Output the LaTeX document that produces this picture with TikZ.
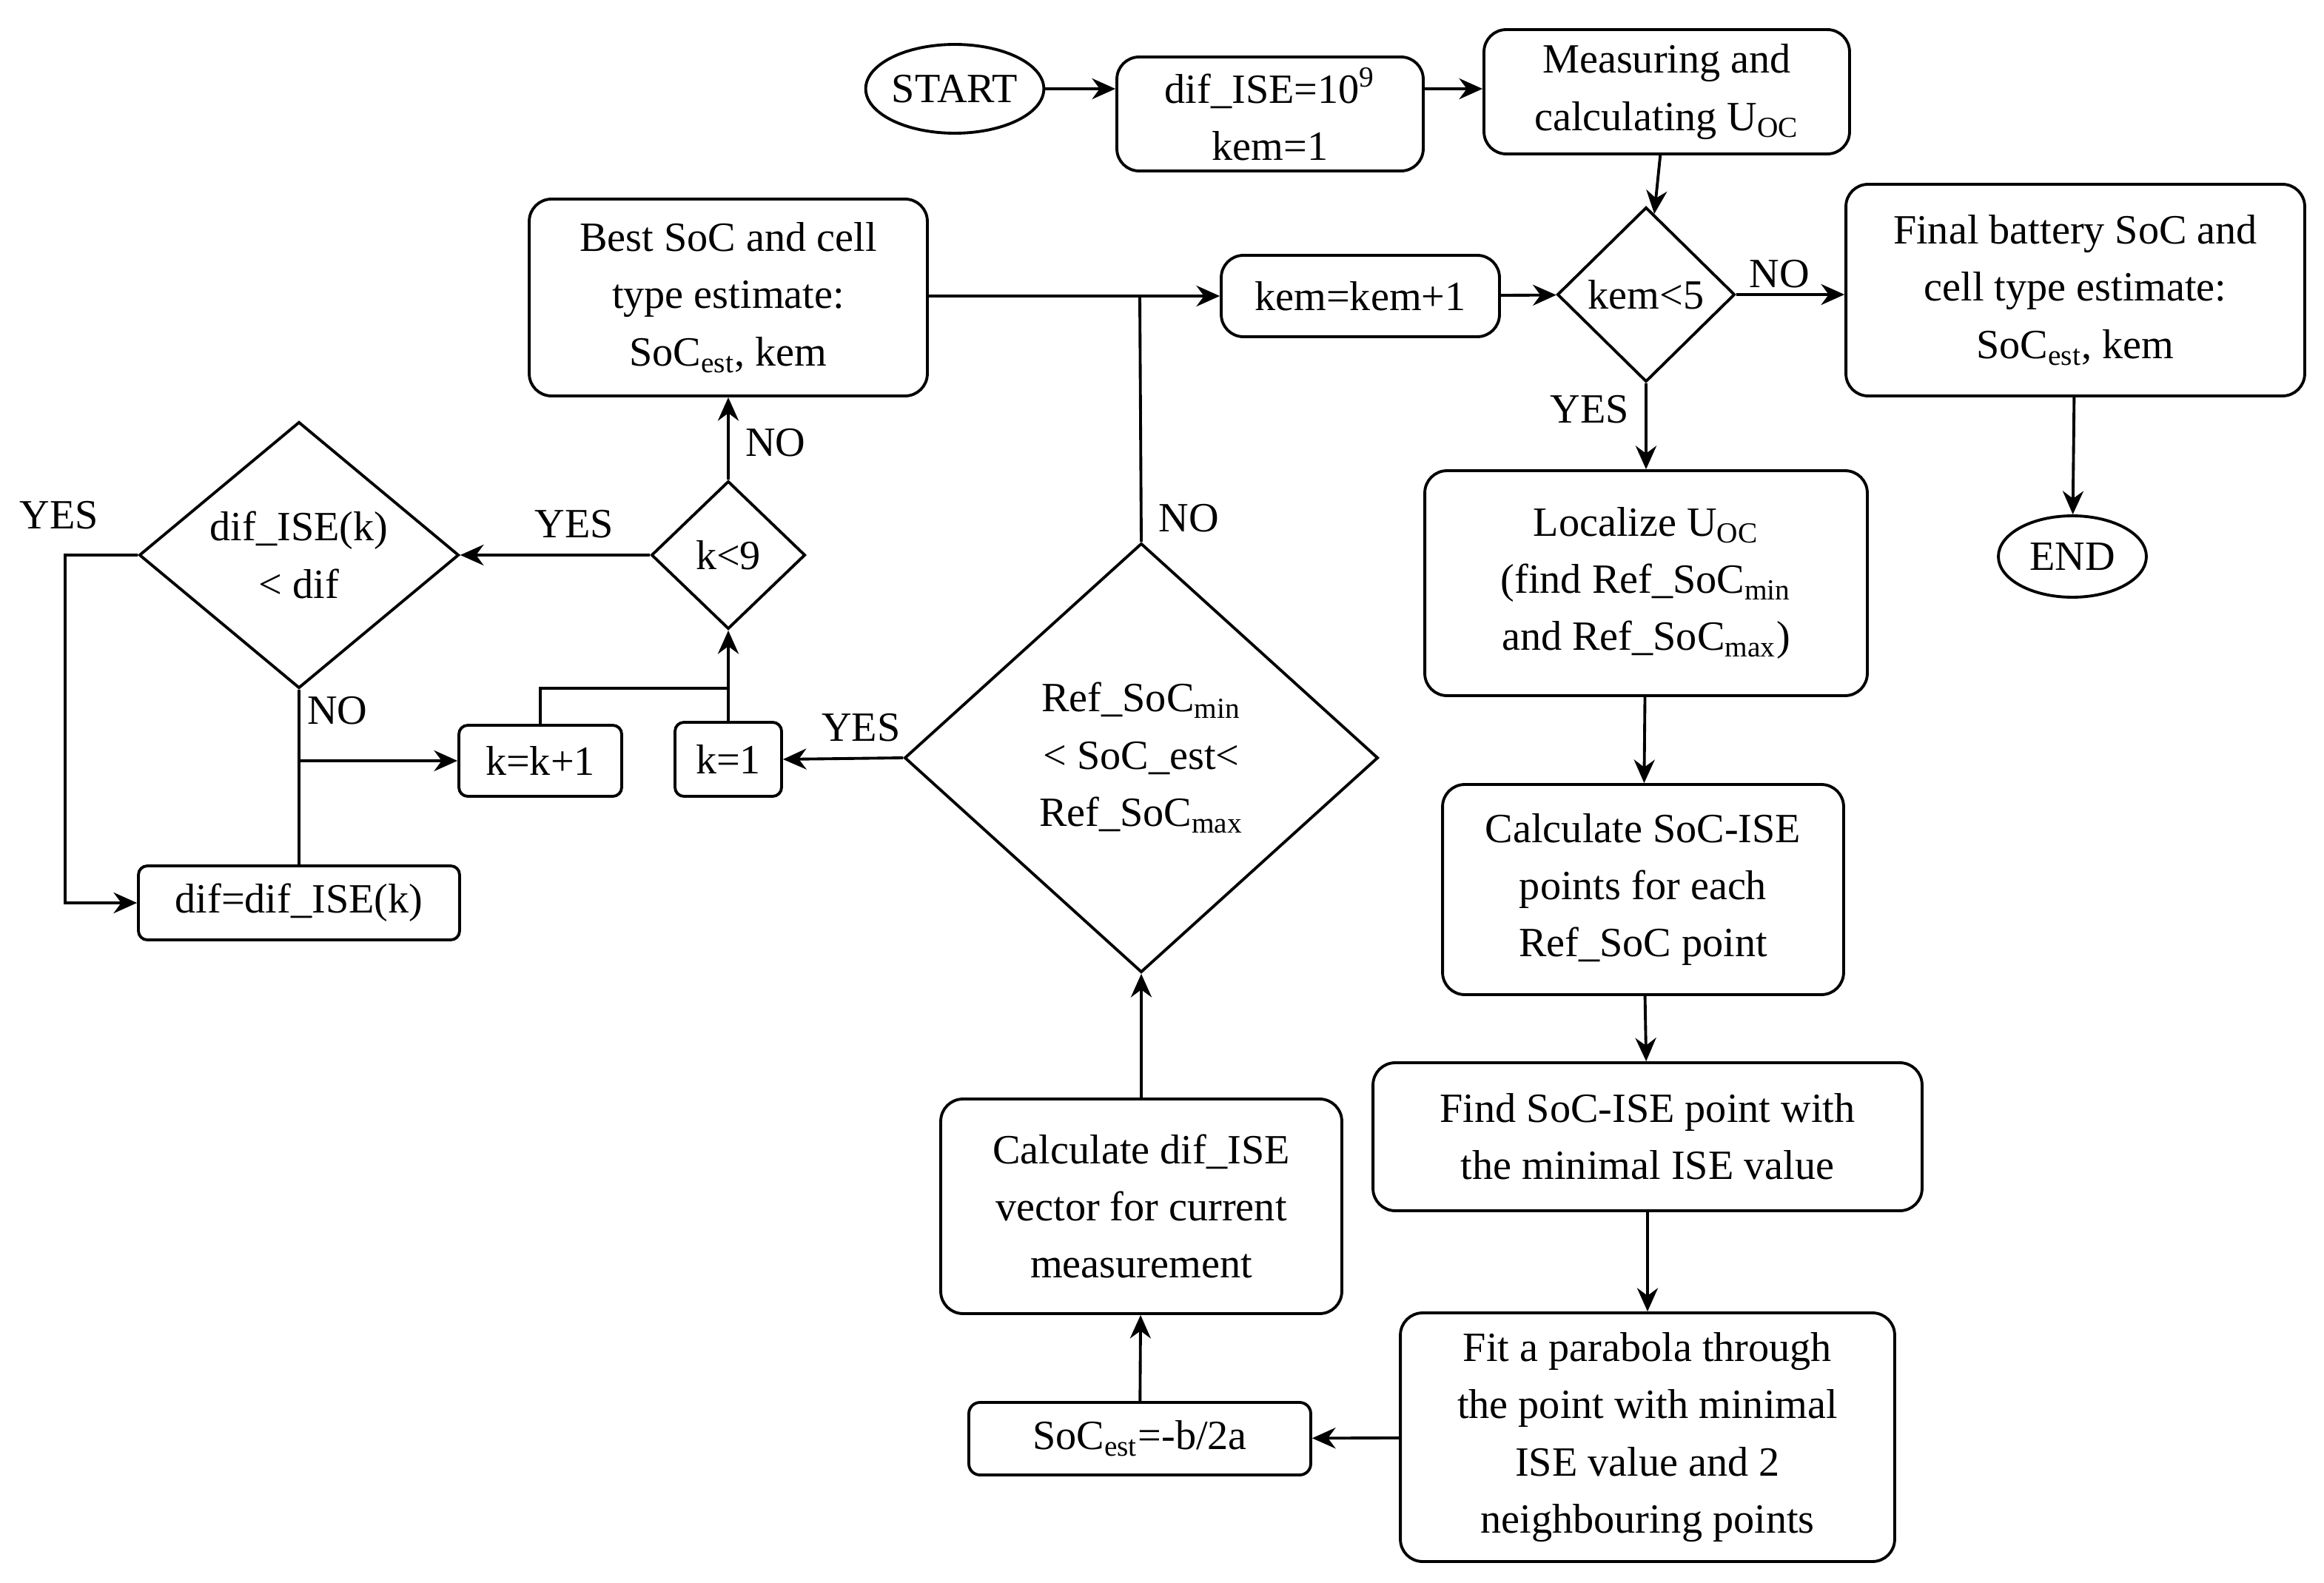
\documentclass[tikz,border=0pt]{standalone}
\usepackage{fontspec}
\setmainfont{Liberation Serif}
\usetikzlibrary{shapes.geometric,arrows.meta}
\begin{document}
\begin{tikzpicture}[x=0.02cm,y=-0.02cm,
  every node/.style={font=\fontsize{16}{22}\selectfont},
  line/.style={line width=1.1pt},
  arr/.style={line width=1.1pt,-{Stealth[length=9pt,width=8pt]}},
  box/.style={draw,line width=1.1pt,rounded corners=0.3cm,align=center,inner sep=0pt},
  dia/.style={draw,line width=1.1pt,diamond,inner sep=0pt},
  ell/.style={draw,line width=1.1pt,ellipse,inner sep=0pt},
  lab/.style={inner sep=0pt}]
\useasboundingbox (0,0) rectangle (1570,1069.5);
% nodes
\node[ell,minimum width=2.4cm,minimum height=1.2cm] (start) at (645,60) {START};
\node[box,minimum width=4.14cm,minimum height=1.54cm] (init) at (858,77) {dif\_ISE=10\textsuperscript{9}\\kem=1};
\node[box,minimum width=4.94cm,minimum height=1.68cm] (meas) at (1126,62) {Measuring and\\calculating U\textsubscript{OC}};
\node[dia,minimum width=2.4cm,minimum height=2.36cm] (kem5) at (1112,199) {};
\node at (kem5) {kem<5};
\node[box,minimum width=3.76cm,minimum height=1.1cm] (kemp) at (919,200) {kem=kem+1};
\node[box,minimum width=6.2cm,minimum height=2.86cm] (final) at (1402,196) {Final battery SoC and\\cell type estimate:\\SoC\textsubscript{est}, kem};
\node[ell,minimum width=2cm,minimum height=1.1cm] (end) at (1400,376) {END};
\node[box,minimum width=5.98cm,minimum height=3.04cm] (loc) at (1112,394) {Localize U\textsubscript{OC}\\(find Ref\_SoC\textsubscript{min}\\and Ref\_SoC\textsubscript{max})};
\node[box,minimum width=5.42cm,minimum height=2.84cm] (calc) at (1110,601) {Calculate SoC-ISE\\points for each\\Ref\_SoC point};
\node[box,minimum width=7.42cm,minimum height=2cm] (find) at (1113,768) {Find SoC-ISE point with\\the minimal ISE value};
\node[box,minimum width=6.68cm,minimum height=3.36cm] (fit) at (1113,971) {Fit a parabola through\\the point with minimal\\ISE value and 2\\neighbouring points};
\node[box,minimum width=4.62cm,minimum height=0.98cm,rounded corners=0.15cm] (socest) at (770,972) {SoC\textsubscript{est}=-b/2a};
\node[box,minimum width=5.42cm,minimum height=2.9cm] (difv) at (771,815) {Calculate dif\_ISE\\vector for current\\measurement};
\node[dia,minimum width=6.4cm,minimum height=5.8cm] (big) at (771,512) {};
\node[align=center] at (771,512) {Ref\_SoC\textsubscript{min}\\< SoC\_est<\\Ref\_SoC\textsubscript{max}};
\node[box,minimum width=1.44cm,minimum height=1cm,rounded corners=0.12cm] (k1) at (492,513) {k=1};
\node[dia,minimum width=2.08cm,minimum height=2cm] (k9) at (492,375) {};
\node at (k9) {k<9};
\node[box,minimum width=5.38cm,minimum height=2.66cm] (best) at (492,201) {Best SoC and cell\\type estimate:\\SoC\textsubscript{est}, kem};
\node[box,minimum width=2.2cm,minimum height=0.96cm,rounded corners=0.12cm] (kk) at (365,514) {k=k+1};
\node[dia,minimum width=4.32cm,minimum height=3.6cm] (difd) at (202,375) {};
\node[align=center] at (202,375) {dif\_ISE(k)\\< dif};
\node[box,minimum width=4.34cm,minimum height=1cm,rounded corners=0.12cm] (dif) at (202,610) {dif=dif\_ISE(k)};
\coordinate (jn) at (770,200);
\coordinate (jk) at (492,465);
\coordinate (jd) at (202,514);
\coordinate (yl) at (44,375);
% connectors
\draw[arr] (start) -- (init.west |- start);
\draw[arr] (init.east |- start) -- (meas.west |- start);
\draw[arr] (meas) -- (kem5);
\draw[arr] (kemp) -- (kem5);
\draw[arr] (kem5) -- (final.west |- kem5) node[lab,pos=0.4,above=2pt] {NO};
\draw[arr] (final) -- (end);
\draw[arr] (kem5) -- (loc) node[lab,pos=0.3,left=6pt] {YES};
\draw[arr] (loc) -- (calc);
\draw[arr] (calc) -- (find);
\draw[arr] (find) -- (fit);
\draw[arr] (fit) -- (socest);
\draw[arr] (socest) -- (difv);
\draw[arr] (difv) -- (big);
\draw[line] (big.north) -- (jn);
\node[lab] at (803,350) {NO};
\draw[arr] (best.east |- jn) -- (kemp.west);
\draw[arr] (big.west) -- (k1.east) node[lab,pos=0.35,above=6pt] {YES};
\draw[arr] (k1) -- (k9);
\draw[line] (kk.north) |- (jk);
\draw[arr] (k9) -- (best) node[lab,pos=0.45,right=6pt] {NO};
\draw[arr] (k9.west) -- (difd.east) node[lab,pos=0.4,above=6pt] {YES};
\draw[line] (difd.south) -- (dif.north);
\draw[arr] (jd) -- (kk.west);
\node[lab] at (228,480) {NO};
\draw[arr] (difd.west) -- (yl) |- (dif.west);
\node[lab] at (40,348) {YES};
\end{tikzpicture}
\end{document}
